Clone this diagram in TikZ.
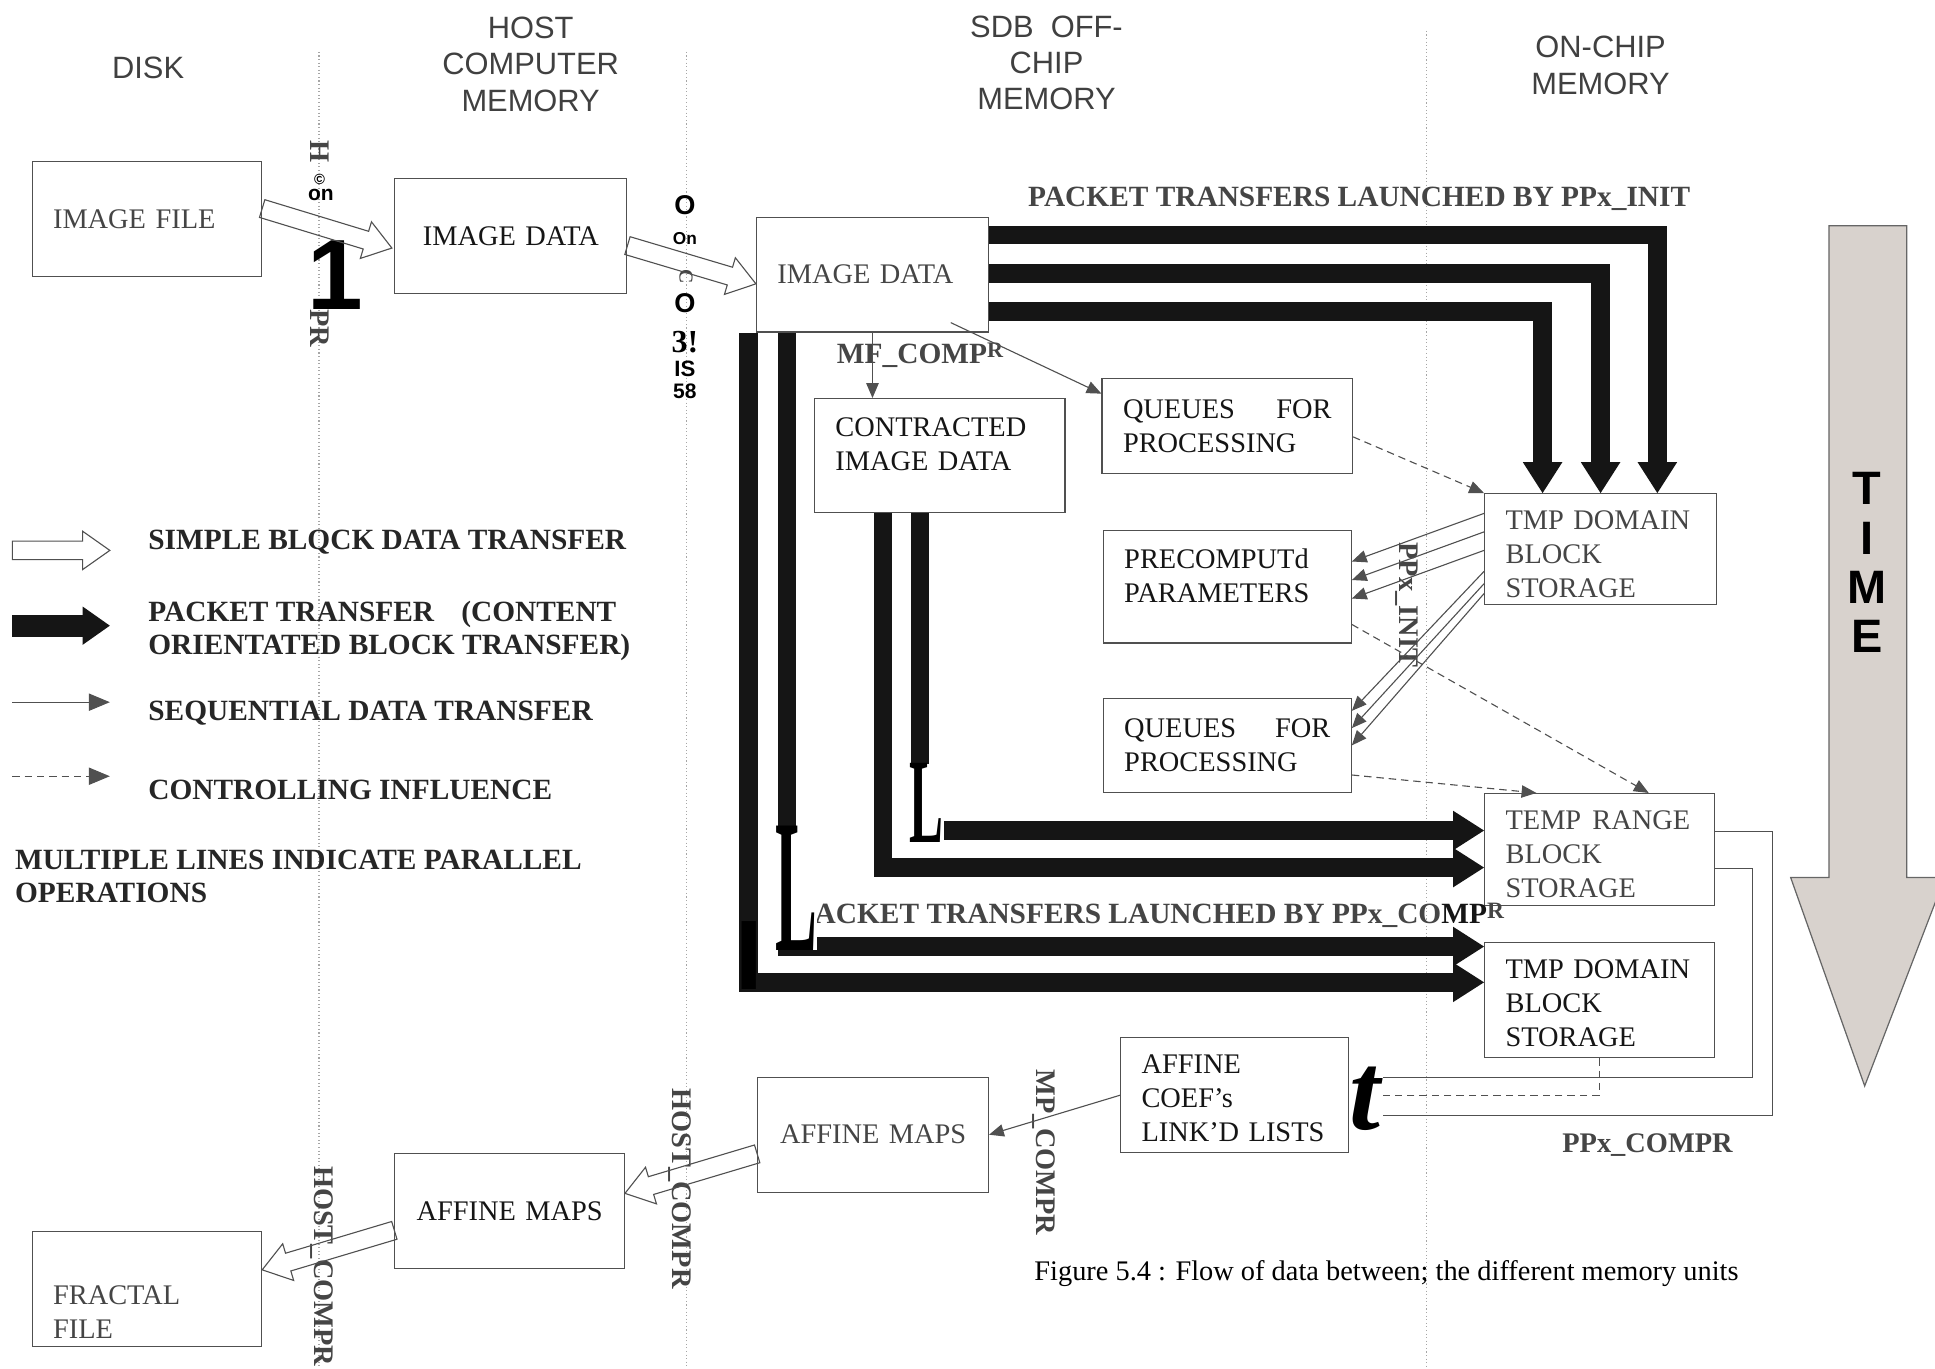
\documentclass[tikz,border=0pt]{standalone}
\usepackage{fontspec}
\setmainfont{Liberation Serif}
\setsansfont{Liberation Sans}
\usepackage{graphicx}
\usetikzlibrary{arrows.meta,positioning,calc}

\definecolor{edge}{HTML}{505050}
\definecolor{dim}{HTML}{454545}
\definecolor{ink}{HTML}{151515}
\definecolor{timefill}{RGB}{216,210,205}

\newcommand{\bxfont}{\fontsize{23}{27.5}\selectfont}
\newcommand{\lbfont}{\bfseries\fontsize{23}{27}\selectfont}
\newcommand{\lgfont}{\bfseries\fontsize{23.8}{27}\selectfont}
\newcommand{\hdfont}{\sffamily\fontsize{25}{29.5}\selectfont}

% hollow block arrow between two points
\newcommand{\blockarrow}[2]{%
  \coordinate (ta) at #1;
  \coordinate (tb) at #2;
  \coordinate (hb) at ($(tb)!22pt!(ta)$);
  \draw[simple] ($(ta)!7.5pt!90:(tb)$) -- ($(hb)!7.5pt!-90:(ta)$) -- ($(hb)!15.5pt!-90:(ta)$)
    -- (tb) -- ($(hb)!15.5pt!90:(ta)$) -- ($(hb)!7.5pt!90:(ta)$) -- ($(ta)!7.5pt!-90:(tb)$) -- cycle;}

\begin{document}
\begin{tikzpicture}[x=1pt, y=-1pt,
  box/.style={draw=edge, line width=0.9pt, inner xsep=17pt, inner ysep=0pt, align=left, font=\bxfont, text=ink},
  dimtext/.style={text=dim},
  head/.style={font=\hdfont, text=black!75, align=center},
  lbl/.style={font=\lbfont, text=dim, inner sep=0pt},
  keytext/.style={font=\lgfont, text=black!85, inner sep=0pt, anchor=west, align=left},
  junk/.style={text=black, inner sep=0pt},
  divider/.style={draw=black!35, dotted, line width=0.9pt},
  packet/.style={draw=ink, line width=15pt, -{Triangle[length=25pt,width=32pt,line width=0pt]}},
  seq/.style={draw=edge, line width=0.9pt, -{Triangle[length=12pt,width=10pt]}},
  ctrl/.style={seq, dash pattern=on 6pt off 4pt},
  ret/.style={draw=edge, line width=0.9pt},
  simple/.style={draw=edge, line width=0.9pt, line join=miter}]
\useasboundingbox (0,0) rectangle (1568,1109);

% memory columns
\draw[divider] (258.5,42) -- (258.5,1109);
\draw[divider] (556,42) -- (556,1109);
\draw[divider] (1156,25) -- (1156,1109);
\node[head] (hdisk) at (120,55) {DISK};
\node[head] (hhost) at (430,52) {HOST\\COMPUTER\\MEMORY};
\node[head] (hsdb) at (848,51) {SDB\ \ OFF-\\CHIP\\MEMORY};
\node[head] (hchip) at (1297,53) {ON-CHIP\\MEMORY};

% boxes
\node[box, dimtext, text width=152pt, minimum height=93pt] (imgf) at (119,177.5) {IMAGE FILE};
\node[box, align=center, text width=154pt, minimum height=93pt] (hostimg) at (414,191.5) {IMAGE DATA};
\node[box, dimtext, text width=154pt, minimum height=93pt] (sdbimg) at (707,222.5) {IMAGE DATA};
\node[box, text width=169pt, minimum height=92pt, text depth=46pt] (ctr) at (761.5,369) {CONTRACTED\\IMAGE DATA};
\node[box, text width=169pt, minimum height=77pt] (qa) at (994.5,345.5) {QUEUES\hfill FOR\\PROCESSING};
\node[box, dimtext, text width=154pt, minimum height=90pt, text height=24pt] (tmpa) at (1297,445) {TMP DOMAIN\\BLOCK\\STORAGE};
\node[box, text width=167pt, minimum height=91pt, text depth=45pt] (pre) at (994.5,475.5) {PRECOMPUTd\\PARAMETERS};
\node[box, text width=167pt, minimum height=76pt] (qb) at (994.5,604) {QUEUES\hfill FOR\\PROCESSING};
\node[box, dimtext, text width=152pt, minimum height=91pt, text height=22pt] (trb) at (1296,688.5) {\mbox{TEMP\hspace{9pt}RANGE}\\BLOCK\\STORAGE};
\node[box, text width=152pt, minimum height=93pt, text height=20pt] (tmpb) at (1296,810.5) {TMP DOMAIN\\BLOCK\\STORAGE};
\node[box, text width=151pt, minimum height=93pt, text height=20pt] (afc) at (1000.5,887.5) {AFFINE\\COEF's\\LINK'D LISTS};
\node[box, dimtext, align=center, text width=153pt, minimum height=93pt] (amsdb) at (707.5,919.5) {AFFINE MAPS};
\node[box, align=center, text width=152pt, minimum height=93pt] (amhost) at (413,981.5) {AFFINE MAPS};
\node[box, dimtext, text width=152pt, minimum height=93pt, text height=52.5pt] (frac) at (119,1044.5) {FRACTAL\\FILE};

% labels
\node[lbl, font=\lgfont, anchor=west] (pinit) at (833,161) {PACKET TRANSFERS LAUNCHED BY PPx\_INIT};
\node[lbl, font=\lgfont, anchor=west] (pcompr) at (660,742) {ACKET TRANSFERS LAUNCHED BY PPx\_CO\textcolor{ink}{MP}\raisebox{4pt}{\fontsize{19}{19}\selectfont R}};
\node[lbl, font=\lgfont, anchor=west] (mfc) at (678,288) {MF\_COMP\raisebox{5pt}{\fontsize{18}{18}\selectfont R}};
\node[lbl, rotate=-90] (ppi) at (1140,490) {PPx\_INIT};
\node[lbl] (ppc) at (1335,928) {PPx\_COMPR};
\node[lbl, rotate=-90] (mpc) at (846,934) {MP\_COMPR};
\node[lbl, rotate=-90] (hca) at (551,963) {HOST\_COMPR};
\node[lbl, rotate=-90] (hcb) at (261,1026) {HOST\_COMPR};
\node[lbl, rotate=-90] (jh) at (259,123) {H};
\node[lbl, rotate=-90] (jpr) at (259,266) {PR};
\node[lbl, rotate=-90, font=\lbfont\fontsize{16}{16}\selectfont] (jc) at (556,224) {C};

% scanner leftovers
\node[junk, font=\sffamily\bfseries\fontsize{12}{12}\selectfont] (jcop) at (259,145) {©};
\node[junk, font=\sffamily\bfseries\fontsize{17}{17}\selectfont] (jon) at (260,158) {on};
\node[junk, font=\sffamily\bfseries\fontsize{81}{81}\selectfont, anchor=base] (jone) at (272,251) {1};
\node[junk, font=\sffamily\bfseries\fontsize{22}{22}\selectfont] (jo1) at (555,166) {O};
\node[junk, font=\sffamily\bfseries\fontsize{14}{14}\selectfont] (jon2) at (555,193) {On};
\node[junk, font=\sffamily\bfseries\fontsize{22}{22}\selectfont] (jo2) at (555,246) {O};
\node[junk, font=\bfseries\fontsize{26}{26}\selectfont] (jthree) at (555,277) {3!};
\node[junk, font=\sffamily\bfseries\fontsize{18}{18}\selectfont] (jis) at (555,299) {IS};
\node[junk, font=\sffamily\bfseries\fontsize{17}{17}\selectfont] (jfive) at (555,317) {58};

% packet transfers
\draw[packet] ([yshift=-15pt]sdbimg.north east) -| ([xshift=46pt]tmpa.north);
\draw[packet] ([yshift=-46pt]sdbimg.north east) -| (tmpa.north);
\draw[packet] ([yshift=-77pt]sdbimg.north east) -| ([xshift=-47pt]tmpa.north);
\draw[packet] ([xshift=-6pt]sdbimg.south west) |- ([yshift=14.5pt]tmpb.west);
\draw[packet] ([xshift=25pt]sdbimg.south west) |- ([yshift=43.5pt]tmpb.west);
\draw[packet] ([xshift=86pt]ctr.south west) |- ([yshift=15.5pt]trb.west);
\draw[packet] ([xshift=56pt]ctr.south west) |- ([yshift=-14.5pt]trb.west);

\node[junk, fill=white, font=\bfseries\fontsize{98}{98}\selectfont, anchor=base] (jla) at (751,683) {\scalebox{0.42}[1]{L}};
\node[junk, fill=white, font=\bfseries\fontsize{154}{154}\selectfont, anchor=base] (jlb) at (645,770) {\scalebox{0.33}[1]{L}};
\node[junk, font=\sffamily\bfseries\fontsize{80}{80}\selectfont, anchor=base] (ji) at (607,802) {I};
\node[junk, font=\bfseries\itshape\fontsize{90}{90}\selectfont, anchor=base] (jt) at (1106,915) {t};

% sequential transfers
\draw[seq] (sdbimg.south) -- (sdbimg.south |- ctr.north);
\draw[seq] ([xshift=-31pt,yshift=8pt]sdbimg.south east) -- ([yshift=26.5pt]qa.west);
\foreach \ys/\ye in {29/20.5, 14/5.5, -1/-9.5}
  \draw[seq] ([yshift=\ys*1pt]tmpa.west) -- ([yshift=\ye*1pt]pre.east);
\foreach \ys/\ye in {-18/28, -28/14, -36/0}
  \draw[seq] ([yshift=\ys*1pt]tmpa.west) -- ([yshift=\ye*1pt]qb.east);
\draw[seq] (afc.west) -- (amsdb.east);

% controlling influence
\draw[ctrl] ([yshift=-8.5pt]qa.east) -- (tmpa.north west);
\draw[ctrl] ([yshift=-30.5pt]pre.east) -- ([xshift=40pt]trb.north);
\draw[ctrl] ([yshift=-24pt]qb.east) -- ([xshift=-51pt]trb.north);

% PPx_COMPR feedback
\draw[ret] ([yshift=14.5pt]trb.east) -- ++(47,0) |- ([xshift=27pt,yshift=-16.5pt]afc.east);
\draw[ret] ([yshift=-15.5pt]trb.east) -- ++(31,0) |- ([xshift=27pt,yshift=14.5pt]afc.east);
\draw[ret, dash pattern=on 6pt off 4pt] (tmpb.south) |- ([xshift=27pt]afc.east);

% simple block transfers
\blockarrow{([yshift=8.5pt]imgf.east)}{([xshift=-2pt,yshift=-9.5pt]hostimg.west)}
\blockarrow{([yshift=-7.5pt]hostimg.east)}{([yshift=-7.5pt]sdbimg.west)}
\blockarrow{([yshift=-15.5pt]amsdb.west)}{([yshift=14.5pt]amhost.east)}
\blockarrow{([yshift=-15.5pt]amhost.west)}{([yshift=15.5pt]frac.east)}

% legend
\coordinate (k1a) at (10,446); \coordinate (k1b) at (89,446);
\coordinate (k2a) at (10,507); \coordinate (k2b) at (89,507);
\coordinate (k3a) at (10,569); \coordinate (k3b) at (89,569);
\coordinate (k4a) at (10,629); \coordinate (k4b) at (89,629);
\blockarrow{(k1a)}{(k1b)}
\draw[packet, line width=18pt, -{Triangle[length=22pt,width=31pt,line width=0pt]}] (k2a) -- (k2b);
\draw[seq, -{Triangle[length=17pt,width=14pt]}] (k3a) -- (k3b);
\draw[ctrl, -{Triangle[length=17pt,width=14pt]}] (k4a) -- (k4b);
\node[keytext] (k1) at (120,439) {SIMPLE BLQCK DATA TRANSFER};
\node[keytext] (k2) at (120,511) {PACKET TRANSFER\hspace{22pt}(CONTENT\\ORIENTATED BLOCK TRANSFER)};
\node[keytext] (k3) at (120,578) {SEQUENTIAL DATA TRANSFER};
\node[keytext] (k4) at (120,640) {CONTROLLING INFLUENCE};
\node[keytext] (k5) at (12,710) {MULTIPLE LINES INDICATE PARALLEL\\OPERATIONS};

% time axis
\draw[draw=black!60, fill=timefill, line width=1pt] (1482,183) -- (1545,183) -- (1545,711) -- (1576,711)
  -- (1511,880) -- (1451,711) -- (1482,711) -- cycle;
\node[font=\sffamily\bfseries\fontsize{38}{40}\selectfont, align=center] (time) at (1513,456) {T\\I\\M\\E};

\node[font=\fontsize{23}{26}\selectfont, anchor=west, inner sep=0pt] (cap) at (838,1032) {Figure 5.4 : Flow of data between; the different memory units};
\end{tikzpicture}
\end{document}
